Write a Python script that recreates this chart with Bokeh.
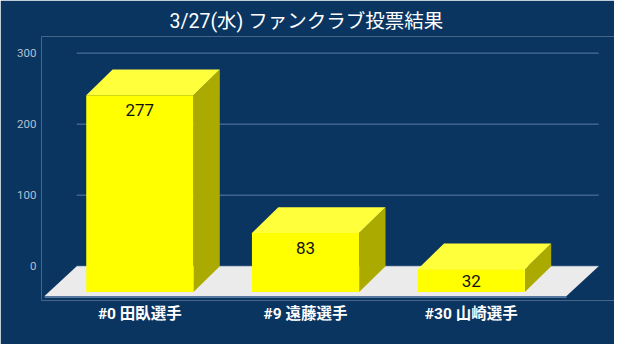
from bokeh.plotting import figure
from bokeh.models import Range1d, FixedTicker, ColumnDataSource
from bokeh.core.properties import value
from bokeh.embed import file_html
from bokeh.resources import INLINE

# ---- data ----
categories = ["#0 田臥選手", "#9 遠藤選手", "#30 山崎選手"]
votes = [277, 83, 32]
y_ticks = [0, 100, 200, 300]
title_text = "3/27(水)  ファンクラブ投票結果"

# ---- style ----
BG = "#0b3561"
FRONT = "#ffff00"
TOP = "#ffff3c"
SIDE = "#aaaa00"
FLOOR = "#ebebeb"
FLOOR_EDGE = "#6f8db0"
GRID = "#5a7ca3"
FONT = "Roboto, 'Noto Sans CJK JP', sans-serif"

# geometry (data units)
bar_w = 0.647
depth_x = 0.159
depth_y = 36.3
floor_pad = 0.075
floor_dx = 0.194
floor_dy = 42.0

n = len(categories)
centers = [i + 0.5 for i in range(n)]

p = figure(width=614, height=344, output_backend="svg", toolbar_location=None,
           x_range=Range1d(-0.0935, 3.3645), y_range=Range1d(-48.3, 323.4),
           min_border_left=41, min_border_right=0, min_border_top=36,
           min_border_bottom=44, background_fill_color=BG,
           border_fill_color=BG, outline_line_color=None)

# title
p.title.text = title_text
p.title.align = "left"
p.title.offset = 128
p.title.standoff = 8
p.title.text_color = "white"
p.title.text_font = FONT
p.title.text_font_size = "19.5px"
p.title.text_font_style = "normal"

p.xgrid.visible = False
p.ygrid.visible = False

# y axis
p.yaxis.ticker = FixedTicker(ticks=y_ticks)
p.yaxis.axis_line_color = None
p.yaxis.major_tick_line_color = None
p.yaxis.minor_tick_line_color = None
p.yaxis.major_tick_out = 0
p.yaxis.major_tick_in = 0
p.yaxis.major_label_standoff = 5
p.yaxis.major_label_text_color = "#b3c0d2"
p.yaxis.major_label_text_font = FONT
p.yaxis.major_label_text_font_size = "11.5px"

# x axis
p.xaxis.ticker = FixedTicker(ticks=centers)
p.xaxis.major_label_overrides = {c: lab for c, lab in zip(centers, categories)}
p.xaxis.axis_line_color = None
p.xaxis.major_tick_line_color = None
p.xaxis.minor_tick_line_color = None
p.xaxis.major_tick_out = 0
p.xaxis.major_tick_in = 0
p.xaxis.major_label_standoff = 4
p.xaxis.major_label_text_color = "white"
p.xaxis.major_label_text_font = FONT
p.xaxis.major_label_text_font_size = "15.5px"
p.xaxis.major_label_text_font_style = "bold"

# gridlines (on the back wall)
gx0 = -floor_pad + floor_dx
gx1 = n + floor_pad + floor_dx
p.segment(x0=[gx0] * len(y_ticks), x1=[gx1] * len(y_ticks), y0=y_ticks, y1=y_ticks,
          line_color=GRID, line_width=1)

# floor
fxl, fxr = -floor_pad, n + floor_pad
p.patch([fxl, fxl + floor_dx, fxr + floor_dx, fxr], [-floor_dy, 0, 0, -floor_dy],
        fill_color=FLOOR, line_color=None)
p.segment(x0=[fxl], x1=[fxr], y0=[-floor_dy - 1.3], y1=[-floor_dy - 1.3],
          line_color=FLOOR_EDGE, line_width=1.5)

# bars
fl = [c - bar_w / 2 for c in centers]
fr = [c + bar_w / 2 for c in centers]
fb = -depth_y
ft = [v - depth_y for v in votes]

side_xs = [[r, r + depth_x, r + depth_x, r] for r in fr]
side_ys = [[fb, fb + depth_y, t + depth_y, t] for t in ft]
top_xs = [[l, l + depth_x, r + depth_x, r] for l, r in zip(fl, fr)]
top_ys = [[t, t + depth_y, t + depth_y, t] for t in ft]

p.patches(side_xs, side_ys, fill_color=SIDE, line_color=None)
p.patches(top_xs, top_ys, fill_color=TOP, line_color=None)
p.quad(left=fl, right=fr, bottom=[fb] * n, top=ft, fill_color=FRONT, line_color=None)

# value labels
label_y = [max(t - 21, (t + fb) / 2) for t in ft]
src = ColumnDataSource(dict(x=centers, y=label_y, t=[str(v) for v in votes]))
p.text(x="x", y="y", text="t", source=src, text_align="center",
       text_baseline="middle", text_color="#111111", text_font=value(FONT),
       text_font_size="17px")

open("out.html", "w").write(file_html(p, INLINE))
